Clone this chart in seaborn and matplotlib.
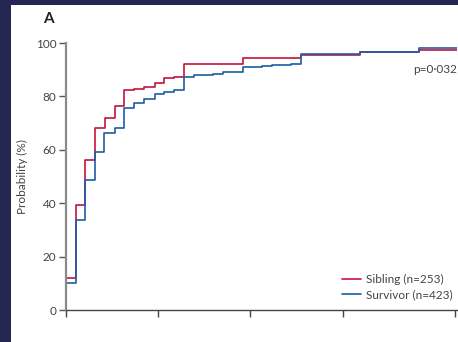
import numpy as np
import pandas as pd
import seaborn as sns
import matplotlib.pyplot as plt
from matplotlib.patches import Rectangle

# step curves (time, cumulative probability %)
sibling_t = [0, 0, 1.06, 2.10, 3.16, 4.20, 5.27, 6.32, 7.42, 8.51, 9.60, 10.61,
             11.70, 12.79, 14.86, 19.16, 25.52, 31.84, 38.28, 42.4]
sibling_p = [0, 12.0, 39.5, 56.1, 68.3, 71.9, 76.3, 82.5, 82.9, 83.4, 84.9, 87.0,
             87.4, 92.0, 92.3, 94.4, 95.6, 96.6, 97.4, 97.4]

survivor_t = [0, 0, 1.06, 2.10, 3.16, 4.17, 5.27, 6.32, 7.42, 8.51, 9.60, 10.61,
              11.70, 12.79, 13.88, 15.98, 16.98, 19.16, 21.30, 22.32, 24.43,
              25.52, 29.88, 31.84, 38.28, 42.4]
survivor_p = [0, 10.1, 33.8, 48.7, 59.2, 66.2, 68.3, 75.6, 77.4, 79.2, 80.9, 81.7,
              82.5, 87.4, 87.9, 88.5, 89.0, 91.1, 91.5, 91.9, 92.3,
              95.8, 96.0, 96.6, 98.0, 98.0]

groups = ['Sibling (n=253)', 'Survivor (n=423)']
colors = ['#c8103e', '#1b5ea6']
y_ticks = [0, 20, 40, 60, 80, 100]
x_ticks = [0, 10, 20, 30, 42.2]

df = pd.concat([
    pd.DataFrame({'time': sibling_t, 'prob': sibling_p, 'group': groups[0]}),
    pd.DataFrame({'time': survivor_t, 'prob': survivor_p, 'group': groups[1]}),
])

sns.set_style('white')
plt.rcParams['font.family'] = ['Liberation Sans Narrow', 'Lato', 'DejaVu Sans']

fig = plt.figure(figsize=(4.58, 3.42), dpi=100, facecolor='#262653')
# white panel inside the dark frame
fig.patches.append(Rectangle((11 / 458, 0), 1, (342 - 5) / 342,
                             transform=fig.transFigure, facecolor='white',
                             edgecolor='none', zorder=-10))

ax = fig.add_axes([66 / 458, (342 - 310.3) / 342, 391 / 458, 267.3 / 342])
ax.set_facecolor('none')
ax.set_zorder(5)

sns.lineplot(data=df, x='time', y='prob', hue='group', palette=colors,
             estimator=None, sort=False, drawstyle='steps-post',
             linewidth=1.2, ax=ax, legend=False)

ax.set_xlim(0, 42.4)
ax.set_ylim(0, 100)
ax.set_yticks(y_ticks)
ax.set_xticks(x_ticks)
ax.set_xticklabels([])
ax.set_xlabel('')
ax.set_ylabel('Probability (%)', fontsize=8.5, color='#444444')
ax.yaxis.set_label_coords(-38 / 391, 0.5)

for s in ['top', 'right']:
    ax.spines[s].set_visible(False)
ax.spines['left'].set_color('#8a8a8a')
ax.spines['left'].set_linewidth(1.6)
ax.spines['bottom'].set_color('#444444')
ax.spines['bottom'].set_linewidth(1.0)
ax.tick_params(axis='y', length=5, width=1, color='#555555',
               labelsize=8.5, labelcolor='#444444', pad=2, left=True)
ax.tick_params(axis='x', length=5, width=1, color='#444444', bottom=True)

handles = [plt.Line2D([], [], color=c, lw=1.2) for c in colors]
ax.legend(handles, groups, loc='lower right', bbox_to_anchor=(1.0, 0.02),
          frameon=False, fontsize=8.5, handlelength=1.6, handletextpad=0.4,
          labelspacing=0.35, borderaxespad=0, labelcolor='#444444')

ax.text(1.0, 0.9, 'p=0\u00b7032', transform=ax.transAxes, ha='right',
        va='center', fontsize=8.5, color='#444444')
fig.text(48 / 458, 1 - 19 / 342, 'A', fontsize=11, fontweight='bold',
         color='#222222', ha='center', va='center', zorder=6)

fig.savefig('out.png', dpi=100, facecolor=fig.get_facecolor())
